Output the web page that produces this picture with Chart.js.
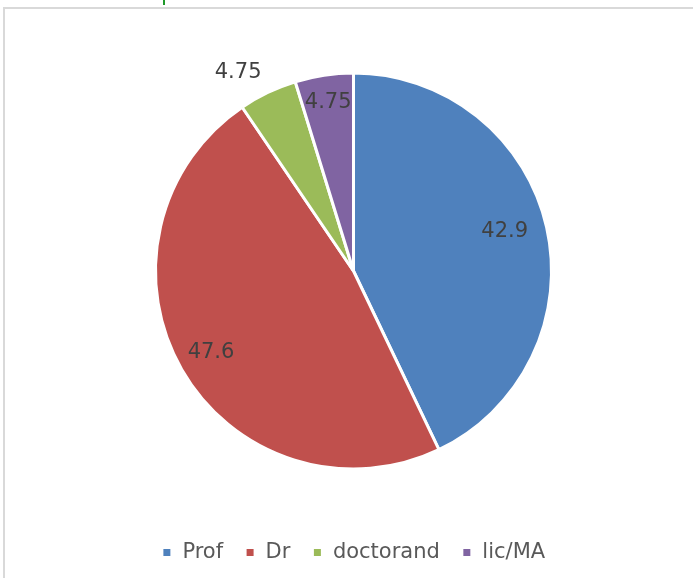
<!DOCTYPE html>
<html>
<head>
<meta charset="utf-8">
<script src="https://cdn.jsdelivr.net/npm/chart.js@4"></script>
<style>
  html, body { margin: 0; padding: 0; background: #fff; }
  #wrap { position: relative; width: 693px; height: 578px; overflow: hidden; }
  #frame { position: absolute; left: 3px; top: 7px; width: 800px; height: 800px; border: 2px solid #d9d9d9; }
  #tick { position: absolute; left: 163px; top: 0; width: 2px; height: 5px; background: #1f9a2a; }
  canvas { position: absolute; left: 0; top: 0; }
</style>
</head>
<body>
<div id="wrap">
  <div id="frame"></div>
  <div id="tick"></div>
  <canvas id="myChart" width="693" height="578"></canvas>
</div>
<script>
const categories = ['Prof', 'Dr', 'doctorand', 'lic/MA'];
const values = [42.9, 47.6, 4.75, 4.75];
const valueLabels = ['42.9', '47.6', '4.75', '4.75'];
const colors = ['#4f81bd', '#c0504d', '#9bbb59', '#8064a2'];

// label placement: fraction of radius, and a small angle nudge (degrees)
const labelRadius = [0.79, 0.83, 1.16, 0.86];
const labelNudge = [-2, 0, -4.5, 0];

const sliceLabels = {
  id: 'sliceLabels',
  afterDatasetsDraw(chart) {
    const ctx = chart.ctx;
    const meta = chart.getDatasetMeta(0);
    ctx.save();
    ctx.font = '21px "DejaVu Sans"';
    ctx.fillStyle = '#404040';
    ctx.textAlign = 'center';
    ctx.textBaseline = 'middle';
    meta.data.forEach(function(arc, i) {
      const mid = (arc.startAngle + arc.endAngle) / 2 + labelNudge[i] * Math.PI / 180;
      const r = arc.outerRadius * labelRadius[i];
      ctx.fillText(valueLabels[i], arc.x + Math.cos(mid) * r, arc.y + Math.sin(mid) * r);
    });
    ctx.restore();
  }
};

new Chart(document.getElementById('myChart'), {
  type: 'pie',
  data: {
    labels: categories,
    datasets: [{
      data: values,
      backgroundColor: colors,
      borderColor: '#ffffff',
      borderWidth: 3,
      radius: 198
    }]
  },
  options: {
    responsive: false,
    animation: false,
    layout: { padding: { left: 14, right: 0, top: 22, bottom: 5 } },
    plugins: {
      tooltip: { enabled: false },
      legend: {
        position: 'bottom',
        labels: {
          boxWidth: 10,
          boxHeight: 10,
          padding: 22,
          color: '#595959',
          font: { family: '"DejaVu Sans"', size: 21 }
        }
      }
    }
  },
  plugins: [sliceLabels]
});
</script>
</body>
</html>
